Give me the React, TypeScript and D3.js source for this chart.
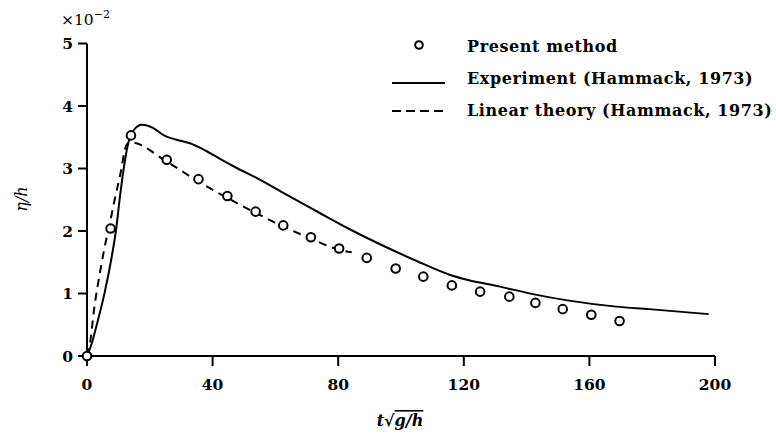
import React from 'react';
import * as d3 from 'd3';

// Present method (circles)
const presentX = [0, 7.5, 14, 25.4, 35.5, 44.7, 53.7, 62.5, 71.3, 80.3, 89.1, 98.3, 107.1, 116.2, 125.2, 134.5, 142.8, 151.5, 160.6, 169.6];
const presentY = [0, 2.04, 3.53, 3.14, 2.83, 2.56, 2.31, 2.09, 1.9, 1.72, 1.57, 1.4, 1.27, 1.13, 1.03, 0.95, 0.85, 0.75, 0.66, 0.56];

// Experiment (Hammack, 1973) - solid
const expX = [0, 1.5, 3, 5.6, 7.7, 9.2, 10.5, 12, 13.2, 15, 17.5, 21, 24.5, 28.5, 33, 38, 42.5, 48, 54, 62.5, 73, 84, 94.5, 105, 115.5, 121, 131.5, 142, 153, 168.5, 179, 198];
const expY = [0, 0.2, 0.48, 1.01, 1.54, 2.0, 2.55, 3.1, 3.42, 3.62, 3.7, 3.65, 3.53, 3.46, 3.4, 3.28, 3.15, 3.0, 2.85, 2.61, 2.32, 2.02, 1.76, 1.52, 1.3, 1.22, 1.11, 0.99, 0.89, 0.79, 0.75, 0.67];

// Linear theory (Hammack, 1973) - dashed
const linX = [0, 0.8, 2.4, 4.5, 6.1, 7.3, 8.8, 10.5, 12.6, 13.8, 25.4, 35.5, 44.7, 53.7, 62.5, 71.3, 80.3, 84.3];
const linY = [0, 0.16, 0.8, 1.44, 1.86, 2.13, 2.5, 2.88, 3.38, 3.42, 3.11, 2.79, 2.53, 2.29, 2.07, 1.88, 1.7, 1.66];

const xTicks = [0, 40, 80, 120, 160, 200];
const yTicks = [0, 1, 2, 3, 4, 5];

const legendLabels = ['Present method', 'Experiment (Hammack, 1973)', 'Linear theory (Hammack, 1973)'];

const W = 776;
const H = 436;
const FONT = '"DejaVu Serif", serif';

export default function App() {
  const x = d3.scaleLinear().domain([0, 200]).range([87, 715]);
  const y = d3.scaleLinear().domain([0, 5]).range([356, 43.5]);

  const line = d3.line<[number, number]>()
    .x(d => x(d[0]))
    .y(d => y(d[1]))
    .curve(d3.curveMonotoneX);

  const expPts = expX.map((v, i) => [v, expY[i]] as [number, number]);
  const linPts = linX.map((v, i) => [v, linY[i]] as [number, number]);

  return (
    <svg width={W} height={H} style={{ position: 'absolute', left: 0, top: 0, background: '#fff' }}>
      {/* axes */}
      <g stroke="#000" strokeWidth={2} fill="none">
        <line x1={x(0)} x2={x(200)} y1={y(0)} y2={y(0)} />
        <line x1={x(0)} x2={x(0)} y1={y(0)} y2={y(5)} />
        {xTicks.map(t => (
          <line key={'xt' + t} x1={x(t)} x2={x(t)} y1={y(0)} y2={y(0) + 10} />
        ))}
        {yTicks.map(t => (
          <line key={'yt' + t} x1={x(0) - 9} x2={x(0)} y1={y(t)} y2={y(t)} />
        ))}
      </g>
      <g fontFamily={FONT} fontWeight="bold" fontSize={15.5} fill="#000">
        {xTicks.map(t => (
          <text key={'xl' + t} x={x(t)} y={y(0) + 34} textAnchor="middle">{t}</text>
        ))}
        {yTicks.map(t => (
          <text key={'yl' + t} x={x(0) - 14} y={y(t) + 5.5} textAnchor="end">{t}</text>
        ))}
      </g>
      <text x={61} y={25} fontFamily={FONT} fontSize={15.5} fill="#000">
        ×10<tspan dy={-7} fontSize={11}>−2</tspan>
      </text>

      {/* axis titles */}
      <text transform="translate(27,199) rotate(-90)" textAnchor="middle" fontFamily={FONT} fontStyle="italic" fontSize={16} fill="#000">
        η/h
      </text>
      <text x={400} y={426} textAnchor="middle" fontFamily={FONT} fontWeight="bold" fontSize={16} fill="#000">
        <tspan fontStyle="italic">t</tspan>
        <tspan>√</tspan>
        <tspan fontStyle="italic" style={{ textDecoration: 'overline' }}>g/h</tspan>
      </text>

      {/* series */}
      <path d={line(expPts) ?? ''} fill="none" stroke="#000" strokeWidth={2} />
      <path d={line(linPts) ?? ''} fill="none" stroke="#000" strokeWidth={2} strokeDasharray="8,6" />
      {presentX.map((v, i) => (
        <circle key={'p' + i} cx={x(v)} cy={y(presentY[i])} r={4.3} fill="#fff" stroke="#000" strokeWidth={2} />
      ))}

      {/* legend */}
      <g fontFamily={FONT} fontWeight="bold" fontSize={16} letterSpacing={0.6} fill="#000">
        <circle cx={419} cy={45} r={3.8} fill="#fff" stroke="#000" strokeWidth={2} />
        <line x1={392} x2={445} y1={83} y2={83} stroke="#000" strokeWidth={2} />
        <line x1={392} x2={445} y1={111} y2={111} stroke="#000" strokeWidth={2} strokeDasharray="9,5" />
        {legendLabels.map((s, i) => (
          <text key={s} x={467} y={52 + i * 32}>{s}</text>
        ))}
      </g>
    </svg>
  );
}
